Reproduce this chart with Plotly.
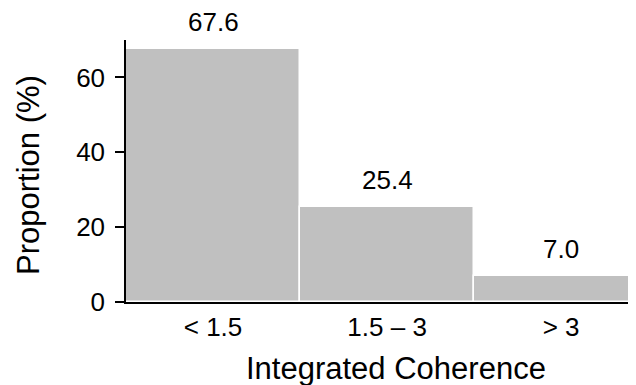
import plotly.graph_objects as go

categories = ["< 1.5", "1.5 – 3", "> 3"]
proportions = [67.6, 25.4, 7.0]
labels = ["67.6", "25.4", "7.0"]
y_ticks = [0, 20, 40, 60]

FONT = "Liberation Sans, Arial, sans-serif"

fig = go.Figure()
fig.add_trace(go.Bar(
    x=categories,
    y=proportions,
    marker=dict(color="#c0c0c0", line=dict(color="white", width=1.5)),
    hoverinfo="skip",
))

for c, v, t in zip(categories, proportions, labels):
    fig.add_annotation(x=c, y=v, text=t, showarrow=False, yanchor="bottom",
                       yshift=10, font=dict(family=FONT, size=26, color="black"))

# axis titles as annotations for precise placement
fig.add_annotation(xref="paper", yref="paper", x=0.53, y=0, yshift=-66,
                   xanchor="center", yanchor="middle", showarrow=False,
                   text="Integrated Coherence",
                   font=dict(family=FONT, size=31, color="black"))
fig.add_annotation(xref="paper", yref="paper", x=0, xshift=-97, y=0.485,
                   xanchor="center", yanchor="middle", showarrow=False,
                   textangle=-90, text="Proportion (%)",
                   font=dict(family=FONT, size=31, color="black"))

# page body has an ~8px default margin, so the figure is offset by 8px
fig.update_layout(
    width=628, height=377,
    margin=dict(l=118, r=0, t=32, b=83),
    paper_bgcolor="white", plot_bgcolor="white",
    bargap=0, showlegend=False,
    font=dict(family=FONT, color="black"),
)
fig.update_xaxes(
    automargin=False, range=[-0.5, 2.43],
    showline=True, linecolor="black", linewidth=1.5,
    ticks="", showgrid=False, zeroline=False,
    tickfont=dict(size=26), ticklabelstandoff=1,
)
fig.update_yaxes(
    automargin=False,
    range=[0, 70], tickvals=y_ticks,
    showline=True, linecolor="black", linewidth=1.5,
    ticks="outside", ticklen=9, tickwidth=1.5, tickcolor="black",
    showgrid=False, zeroline=False,
    tickfont=dict(size=26), ticklabelstandoff=5,
)

fig.write_html("out.html")
